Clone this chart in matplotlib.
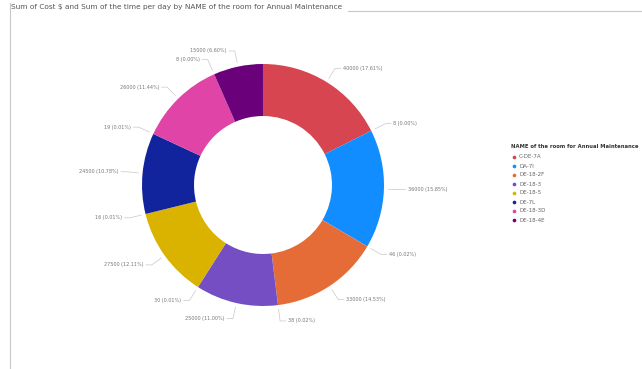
import numpy as np
import matplotlib
matplotlib.use("Agg")
import matplotlib.pyplot as plt

# Rooms and measures
rooms = ["C-DE-7A", "DA-7I", "DE-18-2F", "DE-18-3", "DE-18-5", "DE-7L", "DE-18-3D", "DE-18-4E"]
cost = [40000, 36000, 33000, 25000, 27500, 24500, 26000, 15000]
time_per_day = [8, 46, 38, 30, 16, 19, 8, 12]
colors = ["#D64550", "#118DFF", "#E66C37", "#744EC2", "#D9B300", "#12239E", "#E044A7", "#6B007B"]

title = "Sum of Cost $ and Sum of the time per day by NAME of the room for Annual Maintenance"
legend_title = "NAME of the room for Annual Maintenance"

# Each room contributes a cost slice followed by a time slice
values, slice_colors = [], []
for c, t, col in zip(cost, time_per_day, colors):
    values += [c, t]
    slice_colors += [col, col]
total = float(sum(values))

W, H = 642, 369
fig = plt.figure(figsize=(W / 100, H / 100), dpi=100)
ax = fig.add_axes([0, 0, 1, 1])

cx, cy, R = 263, 185, 121
wedges, _ = ax.pie(values, colors=slice_colors, radius=R, center=(cx, cy),
                   startangle=-90, counterclock=True,
                   wedgeprops=dict(width=52, linewidth=0))
ax.set_xlim(0, W)
ax.set_ylim(H, 0)
ax.set_aspect("auto")
ax.axis("off")

# Data labels with leader lines
placed = []
line_col = "#c8c8c8"
txt_col = "#777777"
for w, v in zip(wedges, values):
    t = np.deg2rad((w.theta1 + w.theta2) / 2)
    ct, st = np.cos(t), np.sin(t)
    ex, ey = cx + (R + 16) * ct, cy + (R + 16) * st
    right = ct >= 0
    if any(abs(ey - py) < 8 and abs(ex - px) < 45 for px, py in placed):
        continue
    placed.append((ex, ey))
    hx = ex + (6 if right else -6)
    ax.plot([cx + (R + 4) * ct, ex, hx], [cy + (R + 4) * st, ey, ey],
            color=line_col, lw=0.5, solid_capstyle="butt")
    label = f"{v:.0f} ({v / total * 100:.2f}%)"
    ax.text(hx + (2 if right else -2), ey, label, fontsize=3.5, color=txt_col,
            ha="left" if right else "right", va="center")

# Title and frame
ax.text(11, 7, title, fontsize=5.3, color="#555555", ha="left", va="center")
ax.plot([348, W], [11, 11], color="#c8c8c8", lw=0.8)
ax.plot([10, 10], [3, H], color="#c8c8c8", lw=0.8)

# Legend
lx, ly = 511, 146
ax.text(lx, ly, legend_title, fontsize=3.8, color="#333333", fontweight="bold",
        ha="left", va="center")
for i, (name, col) in enumerate(zip(rooms, colors)):
    y = ly + 11 + i * 9
    ax.scatter([lx + 3], [y], s=7, color=col, linewidths=0)
    ax.text(lx + 8, y, name, fontsize=4.0, color="#666666", ha="left", va="center")

fig.savefig("out.png", dpi=100)
